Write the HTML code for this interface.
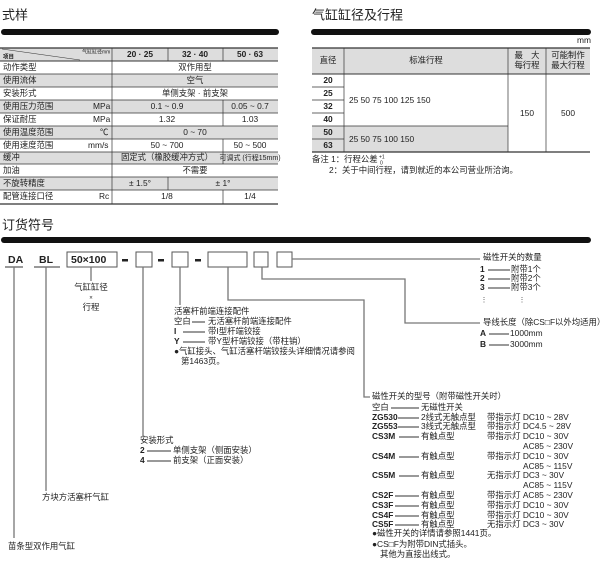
<!DOCTYPE html>
<html><head><meta charset="utf-8"><style>
html,body{margin:0;padding:0;background:#fff;}
svg{display:block;font-family:"Liberation Sans","Noto Sans CJK SC",sans-serif;}
text{font-size:8.4px;fill:#222;dominant-baseline:middle;}
.b{font-weight:bold;}
.t{font-size:13px;fill:#222;}
.c{text-anchor:middle;}
</style></head><body>
<svg width="602" height="583" viewBox="0 0 602 583">
<!-- Titles -->
<text class="t" x="2" y="16">式样</text>
<rect x="1" y="29" width="278" height="6" rx="3" fill="#111"/>
<text class="t" x="312" y="16">气缸缸径及行程</text>
<rect x="311" y="29" width="280" height="6" rx="3" fill="#111"/>

<!-- Left table -->
<g>
<rect x="0" y="48" width="278" height="13" fill="#ddd"/>
<rect x="0" y="74" width="278" height="13" fill="#ddd"/>
<rect x="0" y="100" width="278" height="13" fill="#ddd"/>
<rect x="0" y="126" width="278" height="13" fill="#ddd"/>
<rect x="0" y="152" width="278" height="12" fill="#ddd"/>
<rect x="0" y="177" width="278" height="13" fill="#ddd"/>
<g stroke="#333" stroke-width="0.7">
<line x1="0" y1="48" x2="278" y2="48" stroke-width="1.2"/>
<line x1="0" y1="61" x2="278" y2="61" stroke-width="1"/>
<line x1="0" y1="74" x2="278" y2="74"/><line x1="0" y1="87" x2="278" y2="87"/>
<line x1="0" y1="100" x2="278" y2="100"/><line x1="0" y1="113" x2="278" y2="113"/>
<line x1="0" y1="126" x2="278" y2="126"/><line x1="0" y1="139" x2="278" y2="139"/>
<line x1="0" y1="152" x2="278" y2="152"/><line x1="0" y1="164" x2="278" y2="164"/>
<line x1="0" y1="177" x2="278" y2="177"/><line x1="0" y1="190" x2="278" y2="190"/>
<line x1="0" y1="204" x2="278" y2="204" stroke-width="1.2"/>
<line x1="112" y1="48" x2="112" y2="204"/>
<line x1="168" y1="48" x2="168" y2="61"/><line x1="223" y1="48" x2="223" y2="61"/>
<line x1="223" y1="100" x2="223" y2="126"/><line x1="223" y1="139" x2="223" y2="164"/>
<line x1="168" y1="177" x2="168" y2="190"/><line x1="223" y1="190" x2="223" y2="204"/>
<line x1="2" y1="49" x2="80" y2="60" stroke-width="0.6"/>
</g>
<text x="3" y="57" style="font-size:5.5px" class="b">项目</text>
<text x="82" y="52" style="font-size:5px">气缸缸径mm</text>
<text class="c b" x="140" y="55">20 · 25</text>
<text class="c b" x="195" y="55">32 · 40</text>
<text class="c b" x="250" y="55">50 · 63</text>
<text x="3" y="68">动作类型</text><text class="c" x="195" y="68">双作用型</text>
<text x="3" y="81">使用流体</text><text class="c" x="195" y="81">空气</text>
<text x="3" y="94">安装形式</text><text class="c" x="195" y="94">单侧支架 · 前支架</text>
<text x="3" y="107">使用压力范围</text><text x="93" y="107">MPa</text><text class="c" x="167" y="107">0.1 ~ 0.9</text><text class="c" x="250" y="107">0.05 ~ 0.7</text>
<text x="3" y="120">保证耐压</text><text x="93" y="120">MPa</text><text class="c" x="167" y="120">1.32</text><text class="c" x="250" y="120">1.03</text>
<text x="3" y="133">使用温度范围</text><text x="100" y="133">℃</text><text class="c" x="195" y="133">0 ~ 70</text>
<text x="3" y="146">使用速度范围</text><text x="88" y="146">mm/s</text><text class="c" x="167" y="146">50 ~ 700</text><text class="c" x="250" y="146">50 ~ 500</text>
<text x="3" y="158">缓冲</text><text class="c" x="167" y="158">固定式（橡胶缓冲方式）</text><text class="c" x="250" y="158" style="font-size:7px">可调式 (行程15mm)</text>
<text x="3" y="171">加油</text><text class="c" x="195" y="171">不需要</text>
<text x="3" y="184">不旋转精度</text><text class="c" x="140" y="184">± 1.5°</text><text class="c" x="223" y="184">± 1°</text>
<text x="3" y="197">配管连接口径</text><text x="99" y="197">Rc</text><text class="c" x="167" y="197">1/8</text><text class="c" x="250" y="197">1/4</text>
</g>

<!-- Right table -->
<text x="577" y="41">mm</text>
<rect x="312" y="48" width="278" height="26" fill="#ddd"/>
<rect x="312" y="126" width="196" height="26" fill="#ddd"/>
<rect x="312" y="74" width="32" height="52" fill="#fff"/>
<g stroke="#333" stroke-width="0.7">
<line x1="312" y1="48" x2="590" y2="48" stroke-width="1.2"/>
<line x1="312" y1="74" x2="590" y2="74" stroke-width="1"/>
<line x1="312" y1="87" x2="344" y2="87"/><line x1="312" y1="100" x2="344" y2="100"/>
<line x1="312" y1="113" x2="344" y2="113"/><line x1="312" y1="126" x2="508" y2="126"/>
<line x1="312" y1="139" x2="344" y2="139"/>
<line x1="312" y1="152" x2="590" y2="152" stroke-width="1.2"/>
<line x1="344" y1="48" x2="344" y2="152"/><line x1="508" y1="48" x2="508" y2="152"/>
<line x1="546" y1="48" x2="546" y2="152"/>
</g>
<text class="c" x="328" y="61">直径</text>
<text class="c" x="426" y="61">标准行程</text>
<text class="c" x="527" y="56">最　大</text><text class="c" x="527" y="66">每行程</text>
<text class="c" x="568" y="56">可能制作</text><text class="c" x="568" y="66">最大行程</text>
<text class="c b" x="328" y="81">20</text><text class="c b" x="328" y="94">25</text>
<text class="c b" x="328" y="107">32</text><text class="c b" x="328" y="120">40</text>
<text class="c b" x="328" y="133">50</text><text class="c b" x="328" y="146">63</text>
<text x="349" y="101">25  50  75  100  125  150</text>
<text x="349" y="140">25  50  75  100  150</text>
<text class="c" x="527" y="114">150</text><text class="c" x="568" y="114">500</text>
<text x="312" y="160">备注 1：行程公差</text><text x="379" y="157" style="font-size:5px">+1</text><text x="380" y="163" style="font-size:5px">0</text>
<text x="329" y="171">2：关于中间行程，请到就近的本公司营业所洽询。</text>

<!-- Order code -->
<text class="t" x="2" y="226">订货符号</text>
<rect x="1" y="237" width="590" height="6" rx="3" fill="#111"/>
<text class="b" x="8" y="260" style="font-size:10.5px">DA</text>
<text class="b" x="39" y="260" style="font-size:10.5px">BL</text>
<text class="b" x="71" y="260" style="font-size:10.5px">50×100</text>
<rect x="122" y="259" width="6" height="2.5" fill="#222"/>
<rect x="158" y="259" width="6" height="2.5" fill="#222"/>
<rect x="195" y="259" width="6" height="2.5" fill="#222"/>
<g fill="none" stroke="#555" stroke-width="1">
<rect x="67" y="252" width="50" height="15"/>
<rect x="136" y="252" width="16" height="15"/>
<rect x="172" y="252" width="16" height="15"/>
<rect x="208" y="252" width="39" height="15"/>
<rect x="254" y="252" width="14" height="15"/>
<rect x="277" y="252" width="15" height="15"/>
</g>
<g stroke="#333" stroke-width="1" fill="none">
<line x1="5" y1="267" x2="23" y2="267"/><line x1="34" y1="267" x2="60" y2="267"/>
</g>
<g stroke="#777" stroke-width="1.3" fill="none">
<line x1="14" y1="267" x2="14" y2="538"/>
<line x1="46" y1="267" x2="46" y2="491"/>
<line x1="91" y1="267" x2="91" y2="281"/>
<line x1="143" y1="267" x2="143" y2="436"/>
<line x1="180" y1="267" x2="180" y2="305"/>
<polyline points="228,267 228,300 364,300 364,397 370,397"/>
<polyline points="262,267 262,279 405,279 405,323 480,323"/>
<line x1="292" y1="259" x2="480" y2="259"/>
</g>
<text class="c" x="91" y="288">气缸缸径</text>
<text class="c" x="91" y="298" style="font-size:6px">×</text>
<text class="c" x="91" y="308">行程</text>

<text x="174" y="312">活塞杆前端连接配件</text>
<text x="174" y="322">空白</text><line x1="192" y1="322" x2="205" y2="322" stroke="#333"/><text x="208" y="322">无活塞杆前端连接配件</text>
<text class="b" x="174" y="332">I</text><line x1="183" y1="332" x2="205" y2="332" stroke="#333"/><text x="208" y="332">带I型杆端铰接</text>
<text class="b" x="174" y="342">Y</text><line x1="183" y1="342" x2="205" y2="342" stroke="#333"/><text x="208" y="342">带Y型杆端铰接（带柱销）</text>
<text x="174" y="352">●气缸接头、气缸活塞杆端铰接头详细情况请参阅</text>
<text x="181" y="362">第1463页。</text>

<text x="140" y="441">安装形式</text>
<text class="b" x="140" y="451">2</text><line x1="147" y1="451" x2="171" y2="451" stroke="#333"/><text x="173" y="451">单侧支架（侧面安装）</text>
<text class="b" x="140" y="461">4</text><line x1="147" y1="461" x2="171" y2="461" stroke="#333"/><text x="173" y="461">前支架（正面安装）</text>
<text x="42" y="498">方块方活塞杆气缸</text>
<text x="8" y="547">苗条型双作用气缸</text>

<text x="483" y="258">磁性开关的数量</text>
<text class="b" x="480" y="270">1</text><line x1="488" y1="270" x2="510" y2="270" stroke="#333"/><text x="511" y="270">附带1个</text>
<text class="b" x="480" y="279">2</text><line x1="488" y1="279" x2="510" y2="279" stroke="#333"/><text x="511" y="279">附带2个</text>
<text class="b" x="480" y="288">3</text><line x1="488" y1="288" x2="510" y2="288" stroke="#333"/><text x="511" y="288">附带3个</text>
<text x="481" y="300" style="font-size:6px">⋮</text><text x="519" y="300" style="font-size:6px">⋮</text>
<text x="483" y="323">导线长度（除CS□F以外均适用）</text>
<text class="b" x="480" y="334">A</text><line x1="489" y1="334" x2="509" y2="334" stroke="#333"/><text x="510" y="334">1000mm</text>
<text class="b" x="480" y="345">B</text><line x1="489" y1="345" x2="509" y2="345" stroke="#333"/><text x="510" y="345">3000mm</text>

<text x="372" y="397">磁性开关的型号（附带磁性开关时）</text>
<g stroke="#333" stroke-width="1">
<line x1="391" y1="408" x2="419" y2="408"/>
<line x1="398" y1="418" x2="419" y2="418"/><line x1="398" y1="427" x2="419" y2="427"/>
<line x1="399" y1="437" x2="419" y2="437"/><line x1="399" y1="457" x2="419" y2="457"/>
<line x1="399" y1="476" x2="419" y2="476"/>
<line x1="395" y1="496" x2="419" y2="496"/><line x1="395" y1="506" x2="419" y2="506"/>
<line x1="395" y1="516" x2="419" y2="516"/><line x1="395" y1="525" x2="419" y2="525"/>
</g>
<text x="372" y="408">空白</text><text x="421" y="408">无磁性开关</text>
<text class="b" x="372" y="418">ZG530</text><text x="421" y="418">2线式无触点型</text><text x="487" y="418">带指示灯 DC10 ~ 28V</text>
<text class="b" x="372" y="427">ZG553</text><text x="421" y="427">3线式无触点型</text><text x="487" y="427">带指示灯 DC4.5 ~ 28V</text>
<text class="b" x="372" y="437">CS3M</text><text x="421" y="437">有触点型</text><text x="487" y="437">带指示灯 DC10 ~ 30V</text>
<text x="523" y="447">AC85 ~ 230V</text>
<text class="b" x="372" y="457">CS4M</text><text x="421" y="457">有触点型</text><text x="487" y="457">带指示灯 DC10 ~ 30V</text>
<text x="523" y="467">AC85 ~ 115V</text>
<text class="b" x="372" y="476">CS5M</text><text x="421" y="476">有触点型</text><text x="487" y="476">无指示灯 DC3 ~ 30V</text>
<text x="523" y="486">AC85 ~ 115V</text>
<text class="b" x="372" y="496">CS2F</text><text x="421" y="496">有触点型</text><text x="487" y="496">带指示灯 AC85 ~ 230V</text>
<text class="b" x="372" y="506">CS3F</text><text x="421" y="506">有触点型</text><text x="487" y="506">带指示灯 DC10 ~ 30V</text>
<text class="b" x="372" y="516">CS4F</text><text x="421" y="516">有触点型</text><text x="487" y="516">带指示灯 DC10 ~ 30V</text>
<text class="b" x="372" y="525">CS5F</text><text x="421" y="525">有触点型</text><text x="487" y="525">无指示灯 DC3 ~ 30V</text>
<text x="372" y="534">●磁性开关的详情请参照1441页。</text>
<text x="372" y="545">●CS□F为附带DIN式插头。</text>
<text x="380" y="555">其他为直接出线式。</text>
</svg>
</body></html>
